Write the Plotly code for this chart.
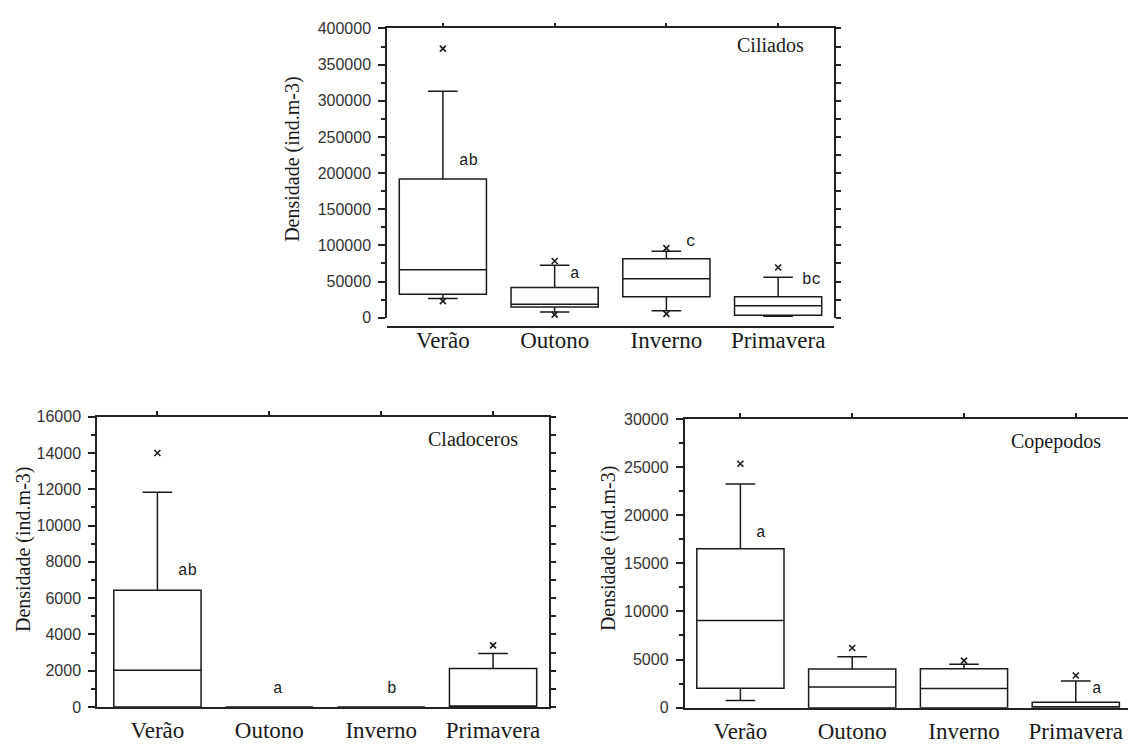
import plotly.graph_objects as go

W, H = 1128, 744

seasons = ["Verão", "Outono", "Inverno", "Primavera"]

# Ciliados (ind.m-3)
cil_q1 = [32400, 14800, 29000, 3500]
cil_med = [66200, 18800, 53800, 16500]
cil_q3 = [192000, 41700, 81500, 29000]
cil_lo = [26600, 8100, 9800, 2200]
cil_hi = [313000, 72600, 91900, 56000]
cil_out_hi = [372000, 78400, 96300, 69400]
cil_out_lo = [23000, 4400, 5400, None]
cil_letters = ["ab", "a", "c", "bc"]

# Cladoceros (ind.m-3)
cla_q1 = [0, 0, 0, 0]
cla_med = [2020, 0, 0, 0]
cla_q3 = [6440, 0, 0, 2120]
cla_lo = [0, 0, 0, 0]
cla_hi = [11830, 0, 0, 2950]
cla_out_hi = [14000, None, None, 3400]
cla_letters = ["ab", "a", "b", ""]

# Copepodos (ind.m-3)
cop_q1 = [2020, 0, 0, 0]
cop_med = [9070, 2150, 1990, 0]
cop_q3 = [16510, 4010, 4040, 570]
cop_lo = [740, 0, 0, 0]
cop_hi = [23230, 5290, 4520, 2760]
cop_out_hi = [25350, 6200, 4890, 3340]
cop_letters = ["a", "", "", "a"]

pos = [i + 0.5 for i in range(len(seasons))]

INK = "#1a1a1a"
AX = "#222222"
SERIF = "Liberation Serif, Times New Roman, serif"
SANS = "Liberation Sans, Arial, sans-serif"
MONO = "Courier New, Liberation Mono, DejaVu Sans Mono, monospace"


def fx(p):
    return p / W


def fy(p):
    return 1 - p / H


fig = go.Figure()


def add_panel(xa, ya, q1, med, q3, lo, hi, out_hi, out_lo=None):
    fig.add_trace(go.Box(
        x=pos, q1=q1, median=med, q3=q3, lowerfence=lo, upperfence=hi,
        width=0.78, whiskerwidth=0.34, fillcolor="white",
        line=dict(color=INK, width=1.5), boxpoints=False,
        xaxis=xa, yaxis=ya, showlegend=False, hoverinfo="skip",
    ))
    for outs in (out_hi, out_lo):
        if outs is None:
            continue
        xs = [p for p, v in zip(pos, outs) if v is not None]
        ys = [v for v in outs if v is not None]
        fig.add_trace(go.Scatter(
            x=xs, y=ys, mode="markers", xaxis=xa, yaxis=ya,
            marker=dict(symbol="x-thin", size=6, line=dict(color=INK, width=1.6)),
            showlegend=False, hoverinfo="skip", cliponaxis=False,
        ))


def dummy(xa, ya):
    fig.add_trace(go.Scatter(x=[], y=[], xaxis=xa, yaxis=ya, showlegend=False))


add_panel("x", "y", cil_q1, cil_med, cil_q3, cil_lo, cil_hi, cil_out_hi, cil_out_lo)
add_panel("x3", "y3", cla_q1, cla_med, cla_q3, cla_lo, cla_hi, cla_out_hi)
add_panel("x5", "y5", cop_q1, cop_med, cop_q3, cop_lo, cop_hi, cop_out_hi)
dummy("x2", "y")
dummy("x", "y2")
dummy("x4", "y3")
dummy("x3", "y4")
dummy("x6", "y5")

line_style = dict(showline=True, linecolor=AX, linewidth=1.5, showgrid=False, zeroline=False)


def bottom_x(domain, rng, standoff, **kw):
    return dict(domain=domain, range=rng, tickvals=pos, ticktext=seasons, ticks="",
                ticklabelstandoff=standoff,
                tickfont=dict(family=SERIF, size=23, color=INK), **line_style, **kw)


def top_x(domain, rng, over, anchor):
    return dict(domain=domain, range=rng, overlaying=over, anchor=anchor, side="top",
                tickvals=pos, ticks="outside", ticklen=4, tickwidth=1.5, tickcolor=AX,
                showticklabels=False, **line_style)


def left_y(domain, top, major, minor, anchor):
    return dict(domain=domain, range=[0, top], anchor=anchor, dtick=major, tick0=0,
                tickformat="d", ticks="outside", ticklen=7, tickwidth=1.5, tickcolor=AX,
                ticklabelstandoff=4,
                tickfont=dict(family=SANS, size=16, color="#333333"),
                minor=dict(ticks="outside", ticklen=4, dtick=minor, tick0=0,
                           tickwidth=1.5, tickcolor=AX),
                **line_style)


def right_y(domain, top, step, over, anchor):
    return dict(domain=domain, range=[0, top], overlaying=over, anchor=anchor, side="right",
                dtick=step, tick0=0, ticks="outside", ticklen=5, tickwidth=1.5,
                tickcolor=AX, showticklabels=False, **line_style)


# panel layout in pixels
d1x = [fx(387), fx(834)]
d1y = [fy(318.3), fy(21)]
d2x = [fx(97), fx(549)]
d2y = [fy(718.3), fy(420)]
d3x = [fx(684.5), 1.0]
d3y = [fy(719), fy(422.3)]
r1 = [0, 4]
r2 = [-0.04, 4]
r3 = [0, 3.967]

fig.update_layout(
    width=W, height=H, margin=dict(l=0, r=0, t=0, b=0),
    paper_bgcolor="white", plot_bgcolor="white", showlegend=False,
    xaxis=bottom_x(d1x, r1, -7, anchor="free", position=fy(327.7)),
    xaxis2=top_x(d1x, r1, "x", "y"),
    yaxis=left_y(d1y, 400000, 50000, 25000, "x"),
    yaxis2=right_y(d1y, 400000, 25000, "y", "x"),
    xaxis3=bottom_x(d2x, r2, 2, anchor="y3"),
    xaxis4=top_x(d2x, r2, "x3", "y3"),
    yaxis3=left_y(d2y, 16000, 2000, 1000, "x3"),
    yaxis4=right_y(d2y, 16000, 1000, "y3", "x3"),
    xaxis5=bottom_x(d3x, r3, 2, anchor="y5"),
    xaxis6=top_x(d3x, r3, "x5", "y5"),
    yaxis5=left_y(d3y, 30000, 5000, 2500, "x5"),
)

ann = []
# y-axis titles
for xpx, ypx in [(293, 155), (23, 556), (608, 555)]:
    ann.append(dict(text="Densidade (ind.m-3)", x=fx(xpx), y=fy(ypx), xref="paper",
                    yref="paper", xanchor="center", yanchor="middle", textangle=-90,
                    showarrow=False, font=dict(family=SERIF, size=20, color=INK)))
# panel names
for name, xpx, ypx in [("Ciliados", 770, 38), ("Cladoceros", 473, 443), ("Copepodos", 1056, 445)]:
    ann.append(dict(text=name, x=fx(xpx), y=fy(ypx), xref="paper", yref="paper",
                    xanchor="center", yanchor="middle", showarrow=False,
                    font=dict(family=SERIF, size=20, color=INK)))

# significance letters
letter_sets = [
    ("x", "y", cil_letters, [0.23, 0.18, 0.22, 0.30], [217000, 61000, 105000, 51500]),
    ("x3", "y3", cla_letters, [0.27, 0.08, 0.10, 0], [7500, 980, 980, 0]),
    ("x5", "y5", cop_letters, [0.18, 0, 0, 0.19], [18200, 0, 0, 1920]),
]
for xa, ya, letters, dx, ys in letter_sets:
    for p, txt, off, yv in zip(pos, letters, dx, ys):
        if not txt:
            continue
        ann.append(dict(text=txt, x=p + off, y=yv, xref=xa, yref=ya, showarrow=False,
                        xanchor="center", yanchor="middle",
                        font=dict(family=MONO, size=16, color=INK)))

fig.update_layout(annotations=ann)

fig.write_html("out.html")
